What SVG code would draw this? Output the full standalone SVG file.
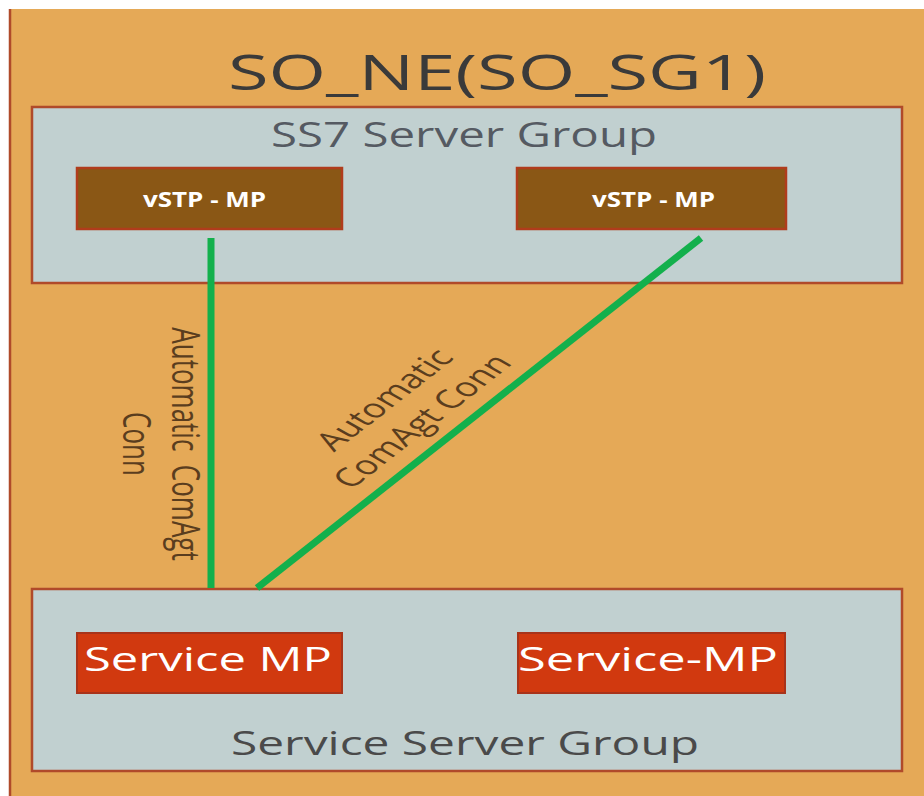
<svg xmlns="http://www.w3.org/2000/svg" width="924" height="796" viewBox="0 0 924 796">
  <style>
    .bg { fill: #E5A957; }
    .group { fill: #C1D0D0; stroke: #B04A2A; stroke-width: 2.5; }
    .vstp { fill: #8A5715; stroke: #B03C1C; stroke-width: 2.5; }
    .svc { fill: #D1390F; stroke: #A8331A; stroke-width: 2; }
    .conn { stroke: #13B04C; stroke-width: 7; fill: none; stroke-linecap: butt; }
    text { font-family: "Open Sans", "Liberation Sans", sans-serif; }
    .title { font-size: 49px; fill: #3A3A3A; }
    .grp { font-size: 34px; fill: #555A62; }
    .grp2 { font-size: 32px; fill: #4A4A4A; }
    .vlabel { font-size: 20.5px; font-weight: bold; fill: #FFFFFF; }
    .slabel { font-size: 33px; fill: #FFFFFF; }
    .clabel { font-size: 26px; fill: #5A3D1E; text-anchor: middle; white-space: pre; }
  </style>
  <rect x="0" y="0" width="924" height="796" fill="#FFFFFF"/>
  <g id="so_ne">
    <rect class="bg" x="10" y="9" width="914" height="787"/>
    <line x1="10" y1="9" x2="10" y2="796" stroke="#B04A2A" stroke-width="2.5"/>
    <text class="title" x="228" y="90" textLength="538" lengthAdjust="spacingAndGlyphs">SO_NE(SO_SG1)</text>
  </g>
  <g id="ss7_group">
    <rect class="group" x="32" y="107" width="870" height="176"/>
    <text class="grp" x="271" y="147" textLength="386" lengthAdjust="spacingAndGlyphs">SS7 Server Group</text>
  </g>
  <g id="vstp_mp_1">
    <rect class="vstp" x="77" y="168" width="265" height="61"/>
    <text class="vlabel" x="143" y="207" textLength="123" lengthAdjust="spacingAndGlyphs">vSTP - MP</text>
  </g>
  <g id="vstp_mp_2">
    <rect class="vstp" x="517" y="168" width="269" height="61"/>
    <text class="vlabel" x="592" y="207" textLength="123" lengthAdjust="spacingAndGlyphs">vSTP - MP</text>
  </g>
  <g id="service_group">
    <rect class="group" x="32" y="589" width="870" height="182"/>
    <text class="grp2" x="231" y="755" textLength="468" lengthAdjust="spacingAndGlyphs">Service Server Group</text>
  </g>
  <g id="service_mp_1">
    <rect class="svc" x="77" y="633" width="265" height="60"/>
    <text class="slabel" x="84" y="671" textLength="248" lengthAdjust="spacingAndGlyphs">Service MP</text>
  </g>
  <g id="service_mp_2">
    <rect class="svc" x="518" y="633" width="267" height="60"/>
    <text class="slabel" x="518" y="671" textLength="260" lengthAdjust="spacingAndGlyphs">Service-MP</text>
  </g>
  <g id="connectors">
    <line class="conn" x1="211" y1="238" x2="211" y2="588"/>
    <line class="conn" x1="701" y1="238" x2="257" y2="588"/>
    <g transform="translate(172,444) scale(1.5,1) rotate(90)">
      <text class="clabel" x="0" y="0">Automatic  ComAgt</text>
      <text class="clabel" x="0" y="32.7">Conn</text>
    </g>
    <g transform="translate(402.5,410) scale(1.5,1) rotate(-49.5)">
      <text class="clabel" x="0" y="-7">Automatic</text>
      <text class="clabel" x="0" y="26">ComAgt Conn</text>
    </g>
  </g>
</svg>
